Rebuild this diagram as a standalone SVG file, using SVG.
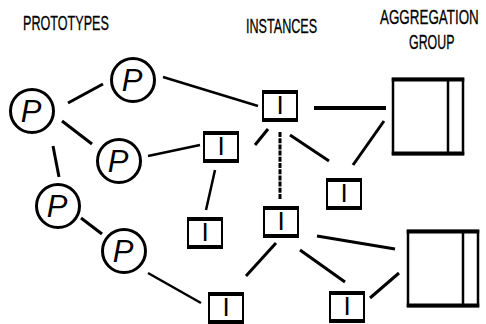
<svg xmlns="http://www.w3.org/2000/svg" width="486" height="324" viewBox="0 0 486 324">
<style>
.lbl{font-family:"Liberation Sans","DejaVu Sans",sans-serif;font-size:20px;fill:#000;stroke:#000;stroke-width:0.3}
.p{font-family:"Liberation Sans","DejaVu Sans",sans-serif;font-style:italic;font-size:31px;fill:#000;text-anchor:middle}
.i{font-family:"Liberation Sans","DejaVu Sans",sans-serif;font-size:26px;fill:#000;text-anchor:middle}
.circ{fill:#fff;stroke:#000;stroke-width:3}
.box{fill:#fff;stroke:#000;stroke-width:2}
.edge{stroke:#000;stroke-width:3;stroke-linecap:butt;fill:none}
.thick{stroke-width:4}
.dash{stroke-dasharray:5 1.2}
</style>
<defs>
<g id="ibox">
<rect class="box" x="0" y="0" width="34" height="30"/>
<rect x="-1" y="-1" width="36" height="4" fill="#000"/>
<rect x="-1" y="27" width="36" height="4" fill="#000"/>
</g>
<g id="agbox">
<rect class="box" x="0" y="0" width="70" height="75" style="stroke-width:2.5"/>
<rect x="-1.25" y="-1.5" width="72.5" height="4" fill="#000"/>
<rect x="-1.25" y="72.5" width="72.5" height="4" fill="#000"/>
<line x1="55" y1="0" x2="55" y2="75" stroke="#000" stroke-width="2.5"/>
</g>
</defs>
<rect width="486" height="324" fill="#fff"/>
<g id="titles">
<text class="lbl" transform="translate(23,29.5) scale(0.63,1)">PROTOTYPES</text>
<text class="lbl" transform="translate(246,32.5) scale(0.63,1)">INSTANCES</text>
<text class="lbl" transform="translate(380,23.5) scale(0.67,1)">AGGREGATION</text>
<text class="lbl" transform="translate(409,48.5) scale(0.62,1)">GROUP</text>
</g>
<g id="connectors">
<line class="edge" x1="68" y1="103" x2="103" y2="84"/>
<line class="edge" x1="62" y1="121" x2="92" y2="144"/>
<line class="edge" x1="53" y1="146" x2="59" y2="177"/>
<line class="edge" x1="81" y1="218" x2="102" y2="234"/>
<line class="edge" x1="163" y1="77" x2="258" y2="106" style="stroke-width:2.5"/>
<line class="edge" x1="148" y1="156" x2="200" y2="145" style="stroke-width:2.5"/>
<line class="edge" x1="215" y1="170" x2="206" y2="210" style="stroke-width:2.5"/>
<line class="edge" x1="148" y1="273" x2="201" y2="303" style="stroke-width:2.5"/>
<line class="edge thick" x1="314" y1="108" x2="386" y2="108"/>
<line class="edge" x1="268" y1="129" x2="255" y2="145"/>
<line class="edge dash" x1="280" y1="132" x2="280" y2="200"/>
<line class="edge" x1="290" y1="135" x2="329" y2="161"/>
<line class="edge" x1="384" y1="121" x2="353" y2="165"/>
<line class="edge" x1="317" y1="236" x2="395" y2="249"/>
<line class="edge" x1="276" y1="243" x2="246" y2="276"/>
<line class="edge" x1="300" y1="250" x2="345" y2="282"/>
<line class="edge" x1="370" y1="298" x2="399" y2="273"/>
</g>
<g id="p-left"><circle class="circ" cx="32" cy="111" r="21.5"/><text class="p" x="31" y="122">P</text></g>
<g id="p-top"><circle class="circ" cx="133" cy="80" r="21.5"/><text class="p" x="132" y="91">P</text></g>
<g id="p-mid"><circle class="circ" cx="119" cy="161" r="21.5"/><text class="p" x="118" y="172">P</text></g>
<g id="p-low"><circle class="circ" cx="58" cy="206" r="21.5"/><text class="p" x="57" y="217">P</text></g>
<g id="p-bottom"><circle class="circ" cx="124" cy="251" r="21.5"/><text class="p" x="123" y="262">P</text></g>
<g id="i1"><use href="#ibox" x="263" y="91"/><text class="i" x="280" y="114">I</text></g>
<g id="i2"><use href="#ibox" x="204" y="132"/><text class="i" x="221" y="155">I</text></g>
<g id="i3"><use href="#ibox" x="188" y="218"/><text class="i" x="205" y="241">I</text></g>
<g id="i4"><use href="#ibox" x="264" y="207"/><text class="i" x="281" y="230">I</text></g>
<g id="i5"><use href="#ibox" x="327" y="179"/><text class="i" x="344" y="202">I</text></g>
<g id="i6"><use href="#ibox" x="330" y="292"/><text class="i" x="347" y="315">I</text></g>
<g id="i7"><use href="#ibox" x="209" y="293"/><text class="i" x="226" y="316">I</text></g>
<g id="ag1"><use href="#agbox" x="393" y="79"/></g>
<g id="ag2"><use href="#agbox" x="408" y="231"/></g>
</svg>
